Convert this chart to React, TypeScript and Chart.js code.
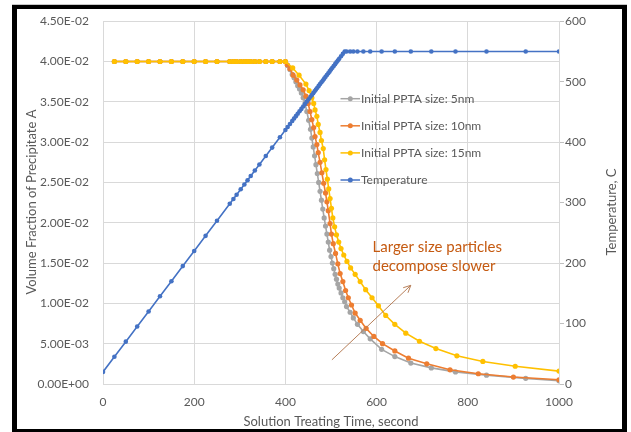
import { useEffect, useRef } from "react";
import { Chart, registerables } from "chart.js";

Chart.register(...registerables);

const FONT = "Lato, 'Open Sans', sans-serif";
const TEXT = "#595959";

// Temperature (and 5nm series) time grid, seconds
const tempTime = [0, 25, 50, 75, 100, 125, 150, 175, 200, 225, 250, 278, 286, 293, 302, 310, 317, 324, 333, 343, 357, 371, 388, 400, 405, 410, 415, 419, 423, 427, 431, 435, 439, 443, 447, 451, 455, 458, 461, 464, 467, 470, 473, 476, 479, 482, 485, 488, 491, 494, 497, 500, 503, 506, 509, 512, 515, 518, 522, 526, 530, 534, 542, 549, 558, 571, 586, 611, 640, 675, 720, 773, 841, 927, 1000];
const tempValue = [20, 45, 70, 95, 120, 145, 170, 195, 220, 245, 270, 298, 306, 313, 322, 330, 337, 344, 353, 363, 377, 391, 408, 420, 425, 430, 435, 439, 443, 447, 451, 455, 459, 463, 467, 471, 475, 478, 481, 484, 487, 490, 493, 496, 499, 502, 505, 508, 511, 514, 517, 520, 523, 526, 529, 532, 535, 538, 542, 546, 550, 550, 550, 550, 550, 550, 550, 550, 550, 550, 550, 550, 550, 550, 550];

const size5Time = [25, 50, 75, 100, 125, 150, 175, 200, 225, 250, 278, 286, 293, 302, 310, 317, 324, 333, 343, 357, 371, 388, 400, 405, 410, 415, 419, 423, 427, 431, 435, 439, 443, 447, 451, 455, 458, 461, 464, 467, 470, 473, 476, 479, 482, 485, 488, 491, 494, 497, 500, 503, 506, 509, 512, 515, 518, 522, 526, 530, 534, 542, 549, 558, 571, 586, 611, 640, 675, 720, 773, 841, 927, 1000];
const size5Value = [0.04, 0.04, 0.04, 0.04, 0.04, 0.04, 0.04, 0.04, 0.04, 0.04, 0.04, 0.04, 0.04, 0.04, 0.04, 0.04, 0.04, 0.04, 0.04, 0.04, 0.04, 0.04, 0.04, 0.0395, 0.039, 0.0384, 0.038, 0.0375, 0.037, 0.0366, 0.0361, 0.0355, 0.0348, 0.0338, 0.0327, 0.0316, 0.0305, 0.0294, 0.0283, 0.0272, 0.0261, 0.025, 0.0239, 0.0228, 0.0217, 0.0206, 0.0196, 0.0186, 0.0176, 0.0166, 0.0158, 0.015, 0.0143, 0.0136, 0.013, 0.0124, 0.0119, 0.0113, 0.0107, 0.0102, 0.0096, 0.0089, 0.0082, 0.0074, 0.0065, 0.0056, 0.0043, 0.0034, 0.0026, 0.002, 0.0015, 0.0011, 0.0007, 0.0004];

const size10Time = [25, 50, 75, 100, 125, 150, 175, 200, 225, 250, 278, 286, 293, 302, 310, 317, 324, 333, 343, 357, 371, 388, 400, 404, 410, 417, 425, 432, 439, 445, 450, 454, 458, 462, 465, 469, 472, 476, 480, 484, 488, 491, 494, 498, 501, 505, 510, 515, 520, 526, 532, 538, 545, 553, 564, 577, 594, 613, 640, 670, 710, 761, 823, 900, 1000];
const size10Value = [0.04, 0.04, 0.04, 0.04, 0.04, 0.04, 0.04, 0.04, 0.04, 0.04, 0.04, 0.04, 0.04, 0.04, 0.04, 0.04, 0.04, 0.04, 0.04, 0.04, 0.04, 0.04, 0.04, 0.0396, 0.0391, 0.0383, 0.0377, 0.0371, 0.0365, 0.0357, 0.0348, 0.0338, 0.0328, 0.0318, 0.0307, 0.0297, 0.0287, 0.0275, 0.0262, 0.0249, 0.0237, 0.0226, 0.0215, 0.0199, 0.0186, 0.0174, 0.0162, 0.0149, 0.0137, 0.0127, 0.0116, 0.0107, 0.0098, 0.0088, 0.0079, 0.0069, 0.0059, 0.005, 0.0041, 0.0032, 0.0025, 0.00176, 0.00127, 0.00086, 0.00053];

const size15Time = [25, 50, 75, 100, 125, 150, 175, 200, 225, 250, 278, 286, 293, 302, 310, 317, 324, 333, 343, 357, 371, 388, 400, 416, 430, 445, 452, 458, 462, 465, 469, 472, 476, 479, 483, 486, 489, 492, 495, 498, 501, 504, 508, 512, 517, 522, 528, 535, 543, 553, 564, 576, 590, 604, 620, 640, 664, 694, 730, 776, 833, 904, 1000];
const size15Value = [0.04, 0.04, 0.04, 0.04, 0.04, 0.04, 0.04, 0.04, 0.04, 0.04, 0.04, 0.04, 0.04, 0.04, 0.04, 0.04, 0.04, 0.04, 0.04, 0.04, 0.04, 0.04, 0.04, 0.0392, 0.0383, 0.0372, 0.0364, 0.0355, 0.0348, 0.034, 0.0332, 0.0322, 0.0312, 0.0302, 0.0292, 0.0278, 0.0266, 0.0254, 0.0242, 0.023, 0.0218, 0.0206, 0.0195, 0.0185, 0.0176, 0.0168, 0.016, 0.0152, 0.0144, 0.0136, 0.0127, 0.0117, 0.0107, 0.0097, 0.0085, 0.0074, 0.0063, 0.0053, 0.0044, 0.0035, 0.0028, 0.0022, 0.0016];

const seriesLabels = ["Initial PPTA size: 5nm", "Initial PPTA size: 10nm", "Initial PPTA size: 15nm", "Temperature"];
const seriesColors = ["#A5A5A5", "#ED7D31", "#FFC000", "#4472C4"];

const xTitle = "Solution Treating Time, second";
const yTitle = "Volume Fraction of Precipitate A";
const y2Title = "Temperature, C";
const noteLines = ["Larger size particles", "decompose slower"];

function pts(t: number[], v: number[]) {
  return t.map((x, i) => ({ x, y: v[i] }));
}

function sci(v: number) {
  if (Math.abs(v) < 1e-12) return "0.00E+00";
  const s = v.toExponential(2);
  const [m, e] = s.split("e");
  const n = parseInt(e, 10);
  const sign = n < 0 ? "-" : "+";
  const a = Math.abs(n);
  return m + "E" + sign + (a < 10 ? "0" + a : String(a));
}

const decorPlugin = {
  id: "decor",
  beforeDraw(chart: any) {
    const ctx = chart.ctx;
    ctx.save();
    ctx.fillStyle = "#ffffff";
    ctx.fillRect(0, 0, chart.width, chart.height);
    ctx.restore();
  },
  afterDraw(chart: any) {
    const ctx = chart.ctx;
    const xs = chart.scales.x;
    const ys = chart.scales.y;
    const area = chart.chartArea;
    ctx.save();
    // axis titles
    ctx.fillStyle = TEXT;
    ctx.font = `13px ${FONT}`;
    ctx.textAlign = "center";
    ctx.textBaseline = "middle";
    ctx.fillText(xTitle, (area.left + area.right) / 2, 421.5);
    ctx.save();
    ctx.translate(31.5, 202);
    ctx.rotate(-Math.PI / 2);
    ctx.fillText(yTitle, 0, 0);
    ctx.restore();
    ctx.save();
    ctx.translate(611.5, 212);
    ctx.rotate(-Math.PI / 2);
    ctx.fillText(y2Title, 0, 0);
    ctx.restore();

    // legend
    ctx.font = `12px ${FONT}`;
    ctx.textAlign = "left";
    for (let i = 0; i < seriesLabels.length; i++) {
      const yy = 98.7 + i * 27.1;
      ctx.strokeStyle = seriesColors[i];
      ctx.lineWidth = 1.5;
      ctx.beginPath();
      ctx.moveTo(340.5, yy);
      ctx.lineTo(360, yy);
      ctx.stroke();
      ctx.fillStyle = seriesColors[i];
      ctx.beginPath();
      ctx.arc(350.3, yy, 2.5, 0, Math.PI * 2);
      ctx.fill();
      ctx.fillStyle = TEXT;
      ctx.fillText(seriesLabels[i], 361, yy);
    }

    // annotation
    ctx.fillStyle = "#C55A11";
    ctx.font = `15px ${FONT}`;
    ctx.fillText(noteLines[0], xs.getPixelForValue(591), ys.getPixelForValue(0.01703));
    ctx.fillText(noteLines[1], xs.getPixelForValue(591), ys.getPixelForValue(0.01457));

    const x1 = xs.getPixelForValue(502), y1 = ys.getPixelForValue(0.003);
    const x2 = xs.getPixelForValue(675), y2 = ys.getPixelForValue(0.01224);
    ctx.strokeStyle = "#B8805A";
    ctx.lineWidth = 1;
    ctx.beginPath();
    ctx.moveTo(x1, y1);
    ctx.lineTo(x2, y2);
    const ang = Math.atan2(y2 - y1, x2 - x1);
    const L = 8;
    ctx.moveTo(x2 - L * Math.cos(ang - 0.45), y2 - L * Math.sin(ang - 0.45));
    ctx.lineTo(x2, y2);
    ctx.lineTo(x2 - L * Math.cos(ang + 0.45), y2 - L * Math.sin(ang + 0.45));
    ctx.stroke();

    // frame
    ctx.fillStyle = "#c8c8c8";
    ctx.fillRect(12, 4, 615, 1);
    ctx.fillStyle = "#000000";
    ctx.fillRect(12, 5, 615, 4);
    ctx.fillRect(12, 5, 5, 427);
    ctx.fillRect(622, 5, 5, 427);
    ctx.fillRect(12, 429, 615, 3);
    ctx.restore();
  },
};

export default function App() {
  const ref = useRef<HTMLCanvasElement | null>(null);
  useEffect(() => {
    document.body.style.margin = "0";
    const canvas = ref.current!;
    const mk = (label: string, color: string, data: any, axis: string, order: number, r: number) => ({
      label,
      data,
      yAxisID: axis,
      order,
      borderColor: color,
      backgroundColor: color,
      borderWidth: 1.6,
      pointRadius: r,
      pointBorderWidth: 0,
      pointBackgroundColor: color,
      tension: 0,
    });
    const tickFont = { family: FONT, size: 12 };
    const chart = new Chart(canvas, {
      type: "line",
      data: {
        datasets: [
          mk(seriesLabels[3], seriesColors[3], pts(tempTime, tempValue), "y2", 0, 2.3),
          mk(seriesLabels[2], seriesColors[2], pts(size15Time, size15Value), "y", 1, 2.6),
          mk(seriesLabels[1], seriesColors[1], pts(size10Time, size10Value), "y", 2, 2.6),
          mk(seriesLabels[0], seriesColors[0], pts(size5Time, size5Value), "y", 3, 2.6),
        ],
      },
      options: {
        animation: false,
        responsive: false,
        maintainAspectRatio: false,
        layout: { padding: { top: 19, left: 0, right: 0, bottom: 0 } },
        plugins: { legend: { display: false }, tooltip: { enabled: false } },
        scales: {
          x: {
            type: "linear",
            min: 0,
            max: 1000,
            ticks: { stepSize: 200, color: TEXT, font: tickFont, padding: 11, callback: (v: any) => String(v) },
            grid: { color: "#D9D9D9", drawTicks: false },
            border: { display: false },
            afterFit: (s: any) => { s.height = 48; },
          },
          y: {
            type: "linear",
            position: "left",
            min: 0,
            max: 0.045,
            ticks: { stepSize: 0.005, color: TEXT, font: tickFont, padding: 14, callback: (v: any) => sci(Number(v)) },
            grid: { color: "#D9D9D9", drawTicks: false },
            border: { display: false },
            afterFit: (s: any) => { s.width = 103; },
          },
          y2: {
            type: "linear",
            position: "right",
            min: 0,
            max: 600,
            ticks: { stepSize: 100, color: TEXT, font: tickFont, padding: 1, callback: (v: any) => String(v) },
            grid: { drawOnChartArea: false, color: "#BFBFBF", tickLength: 5 },
            border: { display: true, color: "#D9D9D9" },
            afterFit: (s: any) => { s.width = 72; },
          },
        },
      } as any,
      plugins: [decorPlugin],
    });
    return () => chart.destroy();
  }, []);
  return (
    <div style={{ position: "fixed", left: 0, top: 0, width: 631, height: 432 }}>
      <canvas ref={ref} width={631} height={432} style={{ width: 631, height: 432, display: "block" }} />
    </div>
  );
}
